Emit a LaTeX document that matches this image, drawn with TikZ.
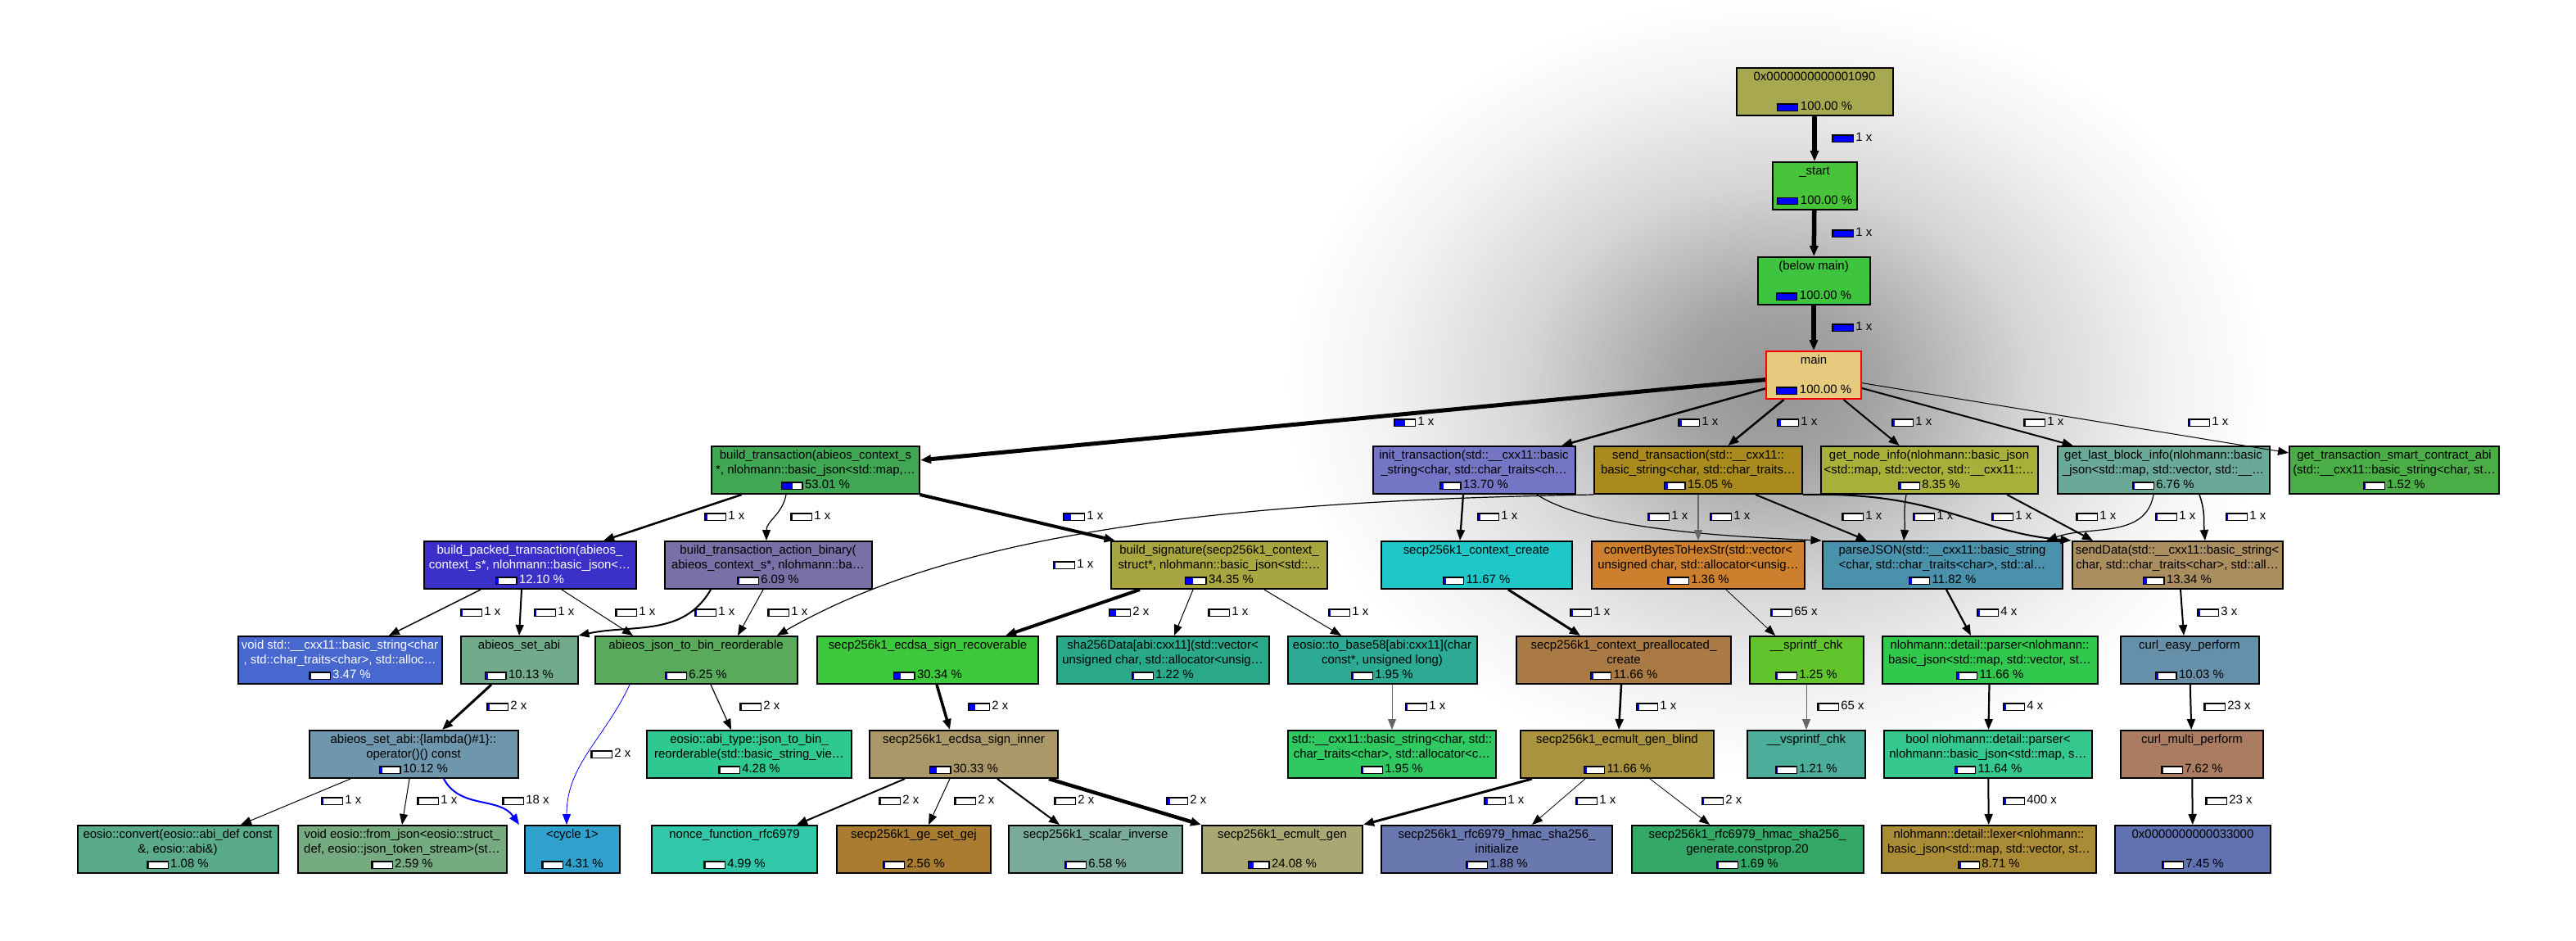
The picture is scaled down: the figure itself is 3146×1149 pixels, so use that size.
\documentclass[tikz,border=0pt]{standalone}
\usepackage{fontspec}
\setmainfont{Liberation Sans}
\usetikzlibrary{arrows.meta}

\newcommand{\fnfont}{\fontsize{8.5}{10.2}\selectfont}
\newlength{\barwd}\setlength{\barwd}{4.8mm}
\newlength{\barht}\setlength{\barht}{1.4mm}
\newcommand{\cbar}[1]{{\setlength{\fboxsep}{0pt}\setlength{\fboxrule}{0.25mm}%
  \fcolorbox{black}{white}{\textcolor{blue}{\rule{#1\barwd}{\barht}}\hspace*{\dimexpr\barwd-#1\barwd\relax}}}}

\pgfdeclareradialshading{focusglow}{\pgfpoint{0bp}{0bp}}{%
  color(0bp)=(black!42); color(5bp)=(black!36); color(13bp)=(black!16); color(20bp)=(black!5); color(25bp)=(white); color(50bp)=(white)}

\definecolor{cN1090}{HTML}{A8A850}
\definecolor{cStart}{HTML}{48C43A}
\definecolor{cBelow}{HTML}{3EC43E}
\definecolor{cMain}{HTML}{E6CB7E}
\definecolor{cBuildTx}{HTML}{40A855}
\definecolor{cInitTx}{HTML}{7575C5}
\definecolor{cSendTx}{HTML}{A88B1C}
\definecolor{cNodeInfo}{HTML}{A9B03A}
\definecolor{cLastBlock}{HTML}{6AA898}
\definecolor{cCtrAbi}{HTML}{4AAD46}
\definecolor{cPacked}{HTML}{3A30C8}
\definecolor{cActBin}{HTML}{7A70A8}
\definecolor{cBuildSig}{HTML}{A8A640}
\definecolor{cCtxCreate}{HTML}{1EC8C8}
\definecolor{cToHex}{HTML}{CC802E}
\definecolor{cParseJson}{HTML}{4A92AC}
\definecolor{cSendData}{HTML}{AA8E60}
\definecolor{cVoidStr}{HTML}{4868D0}
\definecolor{cSetAbi}{HTML}{72AA8C}
\definecolor{cJsonBin}{HTML}{5AAA5C}
\definecolor{cSignRec}{HTML}{3EC83C}
\definecolor{cSha}{HTML}{2AA88A}
\definecolor{cBase58}{HTML}{2CAA94}
\definecolor{cPrealloc}{HTML}{AA7A44}
\definecolor{cSprintf}{HTML}{62C42C}
\definecolor{cParser}{HTML}{32C84E}
\definecolor{cCurlEasy}{HTML}{6690AA}
\definecolor{cLambda}{HTML}{6E96AC}
\definecolor{cAbiType}{HTML}{2EC890}
\definecolor{cSignInner}{HTML}{AA9868}
\definecolor{cStdStr}{HTML}{30C860}
\definecolor{cGenBlind}{HTML}{AA9440}
\definecolor{cVsprintf}{HTML}{4CAE9A}
\definecolor{cBoolParser}{HTML}{34C88E}
\definecolor{cCurlMulti}{HTML}{AA7C62}
\definecolor{cConvert}{HTML}{5AAA8C}
\definecolor{cFromJson}{HTML}{76AA80}
\definecolor{cCycle}{HTML}{30A0CC}
\definecolor{cNonce}{HTML}{30C8A8}
\definecolor{cGej}{HTML}{AA7C32}
\definecolor{cScalarInv}{HTML}{7AAA9C}
\definecolor{cEcmultGen}{HTML}{AAA872}
\definecolor{cHmacInit}{HTML}{6A78B0}
\definecolor{cHmacGen}{HTML}{34A866}
\definecolor{cLexer}{HTML}{AA8C36}
\definecolor{cN33000}{HTML}{6072B2}

\begin{document}
\begin{tikzpicture}[
	x=0.2mm, y=-0.2mm,
	fn/.style={
		draw,
		line width=0.4mm,
		align=center,
		minimum height=11.6mm,
		inner sep=0.5mm,
		font=\fnfont
	},
	wd/.style={minimum width=#1*0.2mm},
	lbl/.style={
		anchor=west,
		inner sep=0pt,
		font=\fnfont
	},
	call/.style={draw=black,-{Triangle[length=2.6mm,width=2mm]}},
	cyc/.style={draw=blue,-{Triangle[length=2.6mm,width=2mm]}},
	lw/.style={line width=#1*0.2mm}
	]
	
	\useasboundingbox (0,0) rectangle (3146,1149);
	\shade[shading=focusglow] (2170,470) ellipse [x radius=120mm, y radius=95mm];
	
	% -------------------------------------------------------------------------
	% Entry chain
	% -------------------------------------------------------------------------
	
	\node[fn,fill=cN1090,wd=191] (n1090) at (2216,112)
	{0x0000000000001090\\\mbox{}\\\cbar{1}\,100.00 \%};
	
	\node[fn,fill=cStart,wd=103] (start) at (2216,227)
	{\_start\\\mbox{}\\\cbar{1}\,100.00 \%};
	
	\node[fn,fill=cBelow,wd=137] (belowmain) at (2215,343)
	{(below main)\\\mbox{}\\\cbar{1}\,100.00 \%};
	
	\node[fn,fill=cMain,draw=red,wd=116] (main) at (2215,458)
	{main\\\mbox{}\\\cbar{1}\,100.00 \%};
	
	% -------------------------------------------------------------------------
	% Called from main
	% -------------------------------------------------------------------------
	
	\node[fn,fill=cBuildTx,wd=254] (buildtx) at (996,574)
	{build\_transaction(abieos\_context\_s\\*, nlohmann::basic\_json<std::map,…\\\cbar{.53}\,53.01 \%};
	
	\node[fn,fill=cInitTx,wd=247] (inittx) at (1800,574)
	{init\_transaction(std::\_\_cxx11::basic\\\_string<char, std::char\_traits<ch…\\\cbar{.137}\,13.70 \%};
	
	\node[fn,fill=cSendTx,wd=254] (sendtx) at (2074,574)
	{send\_transaction(std::\_\_cxx11::\\basic\_string<char, std::char\_traits…\\\cbar{.15}\,15.05 \%};
	
	\node[fn,fill=cNodeInfo,wd=265] (nodeinfo) at (2356,574)
	{get\_node\_info(nlohmann::basic\_json\\<std::map, std::vector, std::\_\_cxx11::…\\\cbar{.083}\,8.35 \%};
	
	\node[fn,fill=cLastBlock,wd=259] (lastblock) at (2642,574)
	{get\_last\_block\_info(nlohmann::basic\\\_json<std::map, std::vector, std::\_\_…\\\cbar{.068}\,6.76 \%};
	
	\node[fn,fill=cCtrAbi,wd=256] (ctrabi) at (2924,574)
	{get\_transaction\_smart\_contract\_abi\\(std::\_\_cxx11::basic\_string<char, st…\\\cbar{.015}\,1.52 \%};
	
	% -------------------------------------------------------------------------
	% Third row
	% -------------------------------------------------------------------------
	
	\node[fn,fill=cPacked,text=white,wd=259] (packed) at (647,690)
	{build\_packed\_transaction(abieos\_\\context\_s*, nlohmann::basic\_json<…\\\cbar{.12}\,12.10 \%};
	
	\node[fn,fill=cActBin,wd=253] (actbin) at (938,690)
	{build\_transaction\_action\_binary(\\abieos\_context\_s*, nlohmann::ba…\\\cbar{.06}\,6.09 \%};
	
	\node[fn,fill=cBuildSig,wd=264] (buildsig) at (1489,690)
	{build\_signature(secp256k1\_context\_\\struct*, nlohmann::basic\_json<std::…\\\cbar{.34}\,34.35 \%};
	
	\node[fn,fill=cCtxCreate,wd=233] (ctxcreate) at (1803,690)
	{secp256k1\_context\_create\\\mbox{}\\\cbar{.117}\,11.67 \%};
	
	\node[fn,fill=cToHex,wd=260] (tohex) at (2074,690)
	{convertBytesToHexStr(std::vector<\\unsigned char, std::allocator<unsig…\\\cbar{.014}\,1.36 \%};
	
	\node[fn,fill=cParseJson,wd=293] (parsejson) at (2372,690)
	{parseJSON(std::\_\_cxx11::basic\_string\\<char, std::char\_traits<char>, std::al…\\\cbar{.118}\,11.82 \%};
	
	\node[fn,fill=cSendData,wd=257] (senddata) at (2659,690)
	{sendData(std::\_\_cxx11::basic\_string<\\char, std::char\_traits<char>, std::all…\\\cbar{.133}\,13.34 \%};
	
	% -------------------------------------------------------------------------
	% Fourth row
	% -------------------------------------------------------------------------
	
	\node[fn,fill=cVoidStr,text=white,wd=249] (voidstr) at (415,806)
	{void std::\_\_cxx11::basic\_string<char\\, std::char\_traits<char>, std::alloc…\\\cbar{.035}\,3.47 \%};
	
	\node[fn,fill=cSetAbi,wd=143] (setabi) at (634,806)
	{abieos\_set\_abi\\\mbox{}\\\cbar{.10}\,10.13 \%};
	
	\node[fn,fill=cJsonBin,wd=247] (jsonbin) at (850,806)
	{abieos\_json\_to\_bin\_reorderable\\\mbox{}\\\cbar{.06}\,6.25 \%};
	
	\node[fn,fill=cSignRec,wd=270] (signrec) at (1133,806)
	{secp256k1\_ecdsa\_sign\_recoverable\\\mbox{}\\\cbar{.30}\,30.34 \%};
	
	\node[fn,fill=cSha,wd=259] (sha) at (1420,806)
	{sha256Data[abi:cxx11](std::vector<\\unsigned char, std::allocator<unsig…\\\cbar{.012}\,1.22 \%};
	
	\node[fn,fill=cBase58,wd=231] (base58) at (1688,806)
	{eosio::to\_base58[abi:cxx11](char\\const*, unsigned long)\\\cbar{.02}\,1.95 \%};
	
	\node[fn,fill=cPrealloc,wd=262] (prealloc) at (1983,806)
	{secp256k1\_context\_preallocated\_\\create\\\cbar{.117}\,11.66 \%};
	
	\node[fn,fill=cSprintf,wd=139] (sprintf) at (2206,806)
	{\_\_sprintf\_chk\\\mbox{}\\\cbar{.012}\,1.25 \%};
	
	\node[fn,fill=cParser,wd=263] (parser) at (2430,806)
	{nlohmann::detail::parser<nlohmann::\\basic\_json<std::map, std::vector, st…\\\cbar{.117}\,11.66 \%};
	
	\node[fn,fill=cCurlEasy,wd=169] (curleasy) at (2674,806)
	{curl\_easy\_perform\\\mbox{}\\\cbar{.10}\,10.03 \%};
	
	% -------------------------------------------------------------------------
	% Fifth row
	% -------------------------------------------------------------------------
	
	\node[fn,fill=cLambda,wd=255] (lambda) at (505,921)
	{abieos\_set\_abi::\{lambda()\#1\}::\\operator()() const\\\cbar{.10}\,10.12 \%};
	
	\node[fn,fill=cAbiType,wd=250] (abitype) at (915,921)
	{eosio::abi\_type::json\_to\_bin\_\\reorderable(std::basic\_string\_vie…\\\cbar{.043}\,4.28 \%};
	
	\node[fn,fill=cSignInner,wd=230] (signinner) at (1177,921)
	{secp256k1\_ecdsa\_sign\_inner\\\mbox{}\\\cbar{.30}\,30.33 \%};
	
	\node[fn,fill=cStdStr,wd=254] (stdstr) at (1700,921)
	{std::\_\_cxx11::basic\_string<char, std::\\char\_traits<char>, std::allocator<c…\\\cbar{.02}\,1.95 \%};
	
	\node[fn,fill=cGenBlind,wd=236] (genblind) at (1975,921)
	{secp256k1\_ecmult\_gen\_blind\\\mbox{}\\\cbar{.117}\,11.66 \%};
	
	\node[fn,fill=cVsprintf,wd=144] (vsprintf) at (2206,921)
	{\_\_vsprintf\_chk\\\mbox{}\\\cbar{.012}\,1.21 \%};
	
	\node[fn,fill=cBoolParser,wd=254] (boolparser) at (2428,921)
	{bool nlohmann::detail::parser<\\nlohmann::basic\_json<std::map, s…\\\cbar{.116}\,11.64 \%};
	
	\node[fn,fill=cCurlMulti,wd=174] (curlmulti) at (2677,921)
	{curl\_multi\_perform\\\mbox{}\\\cbar{.076}\,7.62 \%};
	
	% -------------------------------------------------------------------------
	% Leaves
	% -------------------------------------------------------------------------
	
	\node[fn,fill=cConvert,wd=245] (convert) at (217,1037)
	{eosio::convert(eosio::abi\_def const\\\&, eosio::abi\&)\\\cbar{.011}\,1.08 \%};
	
	\node[fn,fill=cFromJson,wd=255] (fromjson) at (491,1037)
	{void eosio::from\_json<eosio::struct\_\\def, eosio::json\_token\_stream>(st…\\\cbar{.026}\,2.59 \%};
	
	\node[fn,fill=cCycle,wd=116] (cycle) at (699,1037)
	{<cycle 1>\\\mbox{}\\\cbar{.043}\,4.31 \%};
	
	\node[fn,fill=cNonce,wd=202] (nonce) at (897,1037)
	{nonce\_function\_rfc6979\\\mbox{}\\\cbar{.05}\,4.99 \%};
	
	\node[fn,fill=cGej,wd=188] (gej) at (1116,1037)
	{secp256k1\_ge\_set\_gej\\\mbox{}\\\cbar{.026}\,2.56 \%};
	
	\node[fn,fill=cScalarInv,wd=212] (scalarinv) at (1338,1037)
	{secp256k1\_scalar\_inverse\\\mbox{}\\\cbar{.066}\,6.58 \%};
	
	\node[fn,fill=cEcmultGen,wd=196] (ecmultgen) at (1566,1037)
	{secp256k1\_ecmult\_gen\\\mbox{}\\\cbar{.24}\,24.08 \%};
	
	\node[fn,fill=cHmacInit,wd=282] (hmacinit) at (1828,1037)
	{secp256k1\_rfc6979\_hmac\_sha256\_\\initialize\\\cbar{.019}\,1.88 \%};
	
	\node[fn,fill=cHmacGen,wd=283] (hmacgen) at (2134,1037)
	{secp256k1\_rfc6979\_hmac\_sha256\_\\generate.constprop.20\\\cbar{.017}\,1.69 \%};
	
	\node[fn,fill=cLexer,wd=262] (lexer) at (2429,1037)
	{nlohmann::detail::lexer<nlohmann::\\basic\_json<std::map, std::vector, st…\\\cbar{.087}\,8.71 \%};
	
	\node[fn,fill=cN33000,wd=190] (n33000) at (2678,1037)
	{0x0000000000033000\\\mbox{}\\\cbar{.075}\,7.45 \%};
	
	% -------------------------------------------------------------------------
	% Calls
	% -------------------------------------------------------------------------
	
	\draw[call,lw=5.5] (n1090) -- (start);
	\draw[call,lw=5.5] (start) -- (belowmain);
	\draw[call,lw=5.5] (belowmain) -- (main);
	
	\draw[call,lw=5] (main) -- (buildtx);
	\draw[call,lw=2.5] (main) -- (inittx);
	\draw[call,lw=2.5] (main) -- (sendtx);
	\draw[call,lw=2] (main) -- (nodeinfo);
	\draw[call,lw=2] (main) -- (lastblock);
	\draw[call,lw=1] (main) -- (ctrabi);
	
	\draw[call,lw=2.5] (buildtx) -- (packed);
	\draw[call,lw=1.2] ([shift={(-36,0)}]buildtx.south) to[out=-100,in=90] ([shift={(-2,0)}]actbin.north);
	\draw[call,lw=4] (buildtx) -- (buildsig);
	
	\draw[call,lw=1.5] (packed) -- (voidstr);
	\draw[call,lw=2] ([shift={(-10,0)}]packed.south) -- (setabi.north);
	\draw[call,lw=1] ([shift={(39,0)}]packed.south) -- ([shift={(-77,0)}]jsonbin.north);
	\draw[call,lw=2] ([shift={(-70,0)}]actbin.south) to[out=-120,in=12] (setabi.north east);
	\draw[call,lw=1] ([shift={(-6,0)}]actbin.south) -- ([shift={(51,0)}]jsonbin.north);
	\draw[call,lw=1.2] (sendtx.south west) .. controls (1450,612) and (1150,660) .. ([shift={(99,0)}]jsonbin.north);
	
	\draw[call,lw=4] ([shift={(-97,0)}]buildsig.south) -- ([shift={(95,0)}]signrec.north);
	\draw[call,lw=1] ([shift={(-32,0)}]buildsig.south) -- ([shift={(14,0)}]sha.north);
	\draw[call,lw=1] ([shift={(55,0)}]buildsig.south) -- ([shift={(-50,0)}]base58.north);
	
	\draw[call,lw=2.2] ([shift={(-13,0)}]inittx.south) -- ([shift={(-20,0)}]ctxcreate.north);
	\draw[call,lw=1.2] ([shift={(77,0)}]inittx.south) .. controls (1940,645) and (2100,655) .. (parsejson.north west);
	\draw[call,lw=1.2,draw=black!60] (sendtx) -- (tohex);
	\draw[call,lw=2] ([shift={(70,0)}]sendtx.south) -- ([shift={(-92,0)}]parsejson.north);
	\draw[call,lw=2] (sendtx.south east) .. controls (2370,600) and (2410,650) .. (senddata.north west);
	\draw[call,lw=1.2] ([shift={(-28,0)}]nodeinfo.south) to[out=-100,in=85] ([shift={(-47,0)}]parsejson.north);
	\draw[call,lw=2] ([shift={(95,0)}]nodeinfo.south) -- ([shift={(-103,0)}]senddata.north);
	\draw[call,lw=1.2] ([shift={(-12,0)}]lastblock.south) to[out=-100,in=20] ([shift={(-20,0)}]parsejson.north east);
	\draw[call,lw=1.5] ([shift={(44,0)}]lastblock.south) to[out=-70,in=95] ([shift={(34,0)}]senddata.north);
	
	\draw[call,lw=3] ([shift={(39,0)}]ctxcreate.south) -- ([shift={(-53,0)}]prealloc.north);
	\draw[call,lw=0.8] ([shift={(34,0)}]tohex.south) -- ([shift={(-38,0)}]sprintf.north);
	\draw[call,lw=2.2] ([shift={(5,0)}]parsejson.south) -- ([shift={(-23,0)}]parser.north);
	\draw[call,lw=2] ([shift={(4,0)}]senddata.south) -- ([shift={(-7,0)}]curleasy.north);
	
	\draw[call,lw=3] ([shift={(-34,0)}]setabi.south) -- ([shift={(35,0)}]lambda.north);
	\draw[cyc,lw=0.8] ([shift={(-81,0)}]jsonbin.south) to[out=-115,in=90] ([shift={(-7,0)}]cycle.north);
	\draw[call,lw=1.2] ([shift={(18,0)}]jsonbin.south) -- ([shift={(-22,0)}]abitype.north);
	\draw[call,lw=3.5] ([shift={(11,0)}]signrec.south) -- ([shift={(-17,0)}]signinner.north);
	\draw[call,lw=1,draw=black!60] ([shift={(12,0)}]base58.south) -- (stdstr.north);
	\draw[call,lw=2.5] ([shift={(-3,0)}]prealloc.south) -- ([shift={(2,0)}]genblind.north);
	\draw[call,lw=1,draw=black!60] (sprintf) -- (vsprintf);
	\draw[call,lw=2.2] (parser) -- (boolparser);
	\draw[call,lw=2] (curleasy) -- (curlmulti);
	
	\draw[call,lw=1] ([shift={(-77,0)}]lambda.south) -- ([shift={(77,0)}]convert.north);
	\draw[call,lw=1] ([shift={(-5,0)}]lambda.south) -- (fromjson.north);
	\draw[cyc,lw=2] ([shift={(37,0)}]lambda.south) to[out=-62,in=125] ([shift={(-6,0)}]cycle.north west);
	\draw[call,lw=2] ([shift={(-72,0)}]signinner.south) -- ([shift={(76,0)}]nonce.north);
	\draw[call,lw=1] ([shift={(-17,0)}]signinner.south) -- ([shift={(18,0)}]gej.north);
	\draw[call,lw=2] ([shift={(41,0)}]signinner.south) -- ([shift={(-44,0)}]scalarinv.north);
	\draw[call,lw=4.5] ([shift={(104,0)}]signinner.south) -- (ecmultgen.north west);
	\draw[call,lw=3] ([shift={(-104,0)}]genblind.south) -- (ecmultgen.north east);
	\draw[call,lw=0.8] ([shift={(-39,0)}]genblind.south) -- ([shift={(43,0)}]hmacinit.north);
	\draw[call,lw=0.8] ([shift={(40,0)}]genblind.south) -- ([shift={(-46,0)}]hmacgen.north);
	\draw[call,lw=2] (boolparser) -- (lexer);
	\draw[call,lw=2] (curlmulti) -- (n33000);
	
	% -------------------------------------------------------------------------
	% Call counts
	% -------------------------------------------------------------------------
	
	\node[lbl] (cnt01) at (2237,168) {\cbar{1}\,1 x};
	\node[lbl] (cnt02) at (2237,284) {\cbar{1}\,1 x};
	\node[lbl] (cnt03) at (2237,399) {\cbar{1}\,1 x};
	
	\node[lbl] (cnt04) at (1702,515) {\cbar{.53}\,1 x};
	\node[lbl] (cnt05) at (2049,515) {\cbar{.137}\,1 x};
	\node[lbl] (cnt06) at (2170,515) {\cbar{.15}\,1 x};
	\node[lbl] (cnt07) at (2310,515) {\cbar{.083}\,1 x};
	\node[lbl] (cnt08) at (2471,515) {\cbar{.068}\,1 x};
	\node[lbl] (cnt09) at (2672,515) {\cbar{.015}\,1 x};
	
	\node[lbl] (cnt10) at (860,630) {\cbar{.12}\,1 x};
	\node[lbl] (cnt11) at (965,630) {\cbar{.06}\,1 x};
	\node[lbl] (cnt12) at (1298,630) {\cbar{.34}\,1 x};
	\node[lbl] (cnt13) at (1286,689) {\cbar{.02}\,1 x};
	\node[lbl] (cnt14) at (1804,630) {\cbar{.117}\,1 x};
	\node[lbl] (cnt15) at (2012,630) {\cbar{.02}\,1 x};
	\node[lbl] (cnt16) at (2088,630) {\cbar{.014}\,1 x};
	\node[lbl] (cnt17) at (2249,630) {\cbar{.04}\,1 x};
	\node[lbl] (cnt18) at (2336,630) {\cbar{.04}\,1 x};
	\node[lbl] (cnt19) at (2432,630) {\cbar{.05}\,1 x};
	\node[lbl] (cnt20) at (2535,630) {\cbar{.04}\,1 x};
	\node[lbl] (cnt21) at (2632,630) {\cbar{.02}\,1 x};
	\node[lbl] (cnt22) at (2718,630) {\cbar{.04}\,1 x};
	
	\node[lbl] (cnt23) at (562,747) {\cbar{.035}\,1 x};
	\node[lbl] (cnt24) at (652,747) {\cbar{.05}\,1 x};
	\node[lbl] (cnt25) at (751,747) {\cbar{.03}\,1 x};
	\node[lbl] (cnt26) at (848,747) {\cbar{.05}\,1 x};
	\node[lbl] (cnt27) at (937,747) {\cbar{.01}\,1 x};
	\node[lbl] (cnt28) at (1354,747) {\cbar{.30}\,2 x};
	\node[lbl] (cnt29) at (1475,747) {\cbar{.012}\,1 x};
	\node[lbl] (cnt30) at (1622,747) {\cbar{.02}\,1 x};
	\node[lbl] (cnt31) at (1917,747) {\cbar{.117}\,1 x};
	\node[lbl] (cnt32) at (2162,747) {\cbar{.012}\,65 x};
	\node[lbl] (cnt33) at (2414,747) {\cbar{.117}\,4 x};
	\node[lbl] (cnt34) at (2683,747) {\cbar{.10}\,3 x};
	
	\node[lbl] (cnt35) at (594,862) {\cbar{.10}\,2 x};
	\node[lbl] (cnt36) at (903,862) {\cbar{.043}\,2 x};
	\node[lbl] (cnt37) at (1182,862) {\cbar{.30}\,2 x};
	\node[lbl] (cnt38) at (1716,862) {\cbar{.02}\,1 x};
	\node[lbl] (cnt39) at (1998,862) {\cbar{.117}\,1 x};
	\node[lbl] (cnt40) at (2219,862) {\cbar{.012}\,65 x};
	\node[lbl] (cnt41) at (2446,862) {\cbar{.116}\,4 x};
	\node[lbl] (cnt42) at (2691,862) {\cbar{.076}\,23 x};
	\node[lbl] (cnt43) at (721,920) {\cbar{.02}\,2 x};
	
	\node[lbl] (cnt44) at (392,977) {\cbar{.011}\,1 x};
	\node[lbl] (cnt45) at (509,977) {\cbar{.026}\,1 x};
	\node[lbl] (cnt46) at (613,977) {\cbar{.04}\,18 x};
	\node[lbl] (cnt47) at (1073,977) {\cbar{.05}\,2 x};
	\node[lbl] (cnt48) at (1165,977) {\cbar{.026}\,2 x};
	\node[lbl] (cnt49) at (1287,977) {\cbar{.066}\,2 x};
	\node[lbl] (cnt50) at (1424,977) {\cbar{.12}\,2 x};
	\node[lbl] (cnt51) at (1812,977) {\cbar{.12}\,1 x};
	\node[lbl] (cnt52) at (1924,977) {\cbar{.019}\,1 x};
	\node[lbl] (cnt53) at (2078,977) {\cbar{.017}\,2 x};
	\node[lbl] (cnt54) at (2446,977) {\cbar{.087}\,400 x};
	\node[lbl] (cnt55) at (2693,977) {\cbar{.075}\,23 x};
	
\end{tikzpicture}
\end{document}
